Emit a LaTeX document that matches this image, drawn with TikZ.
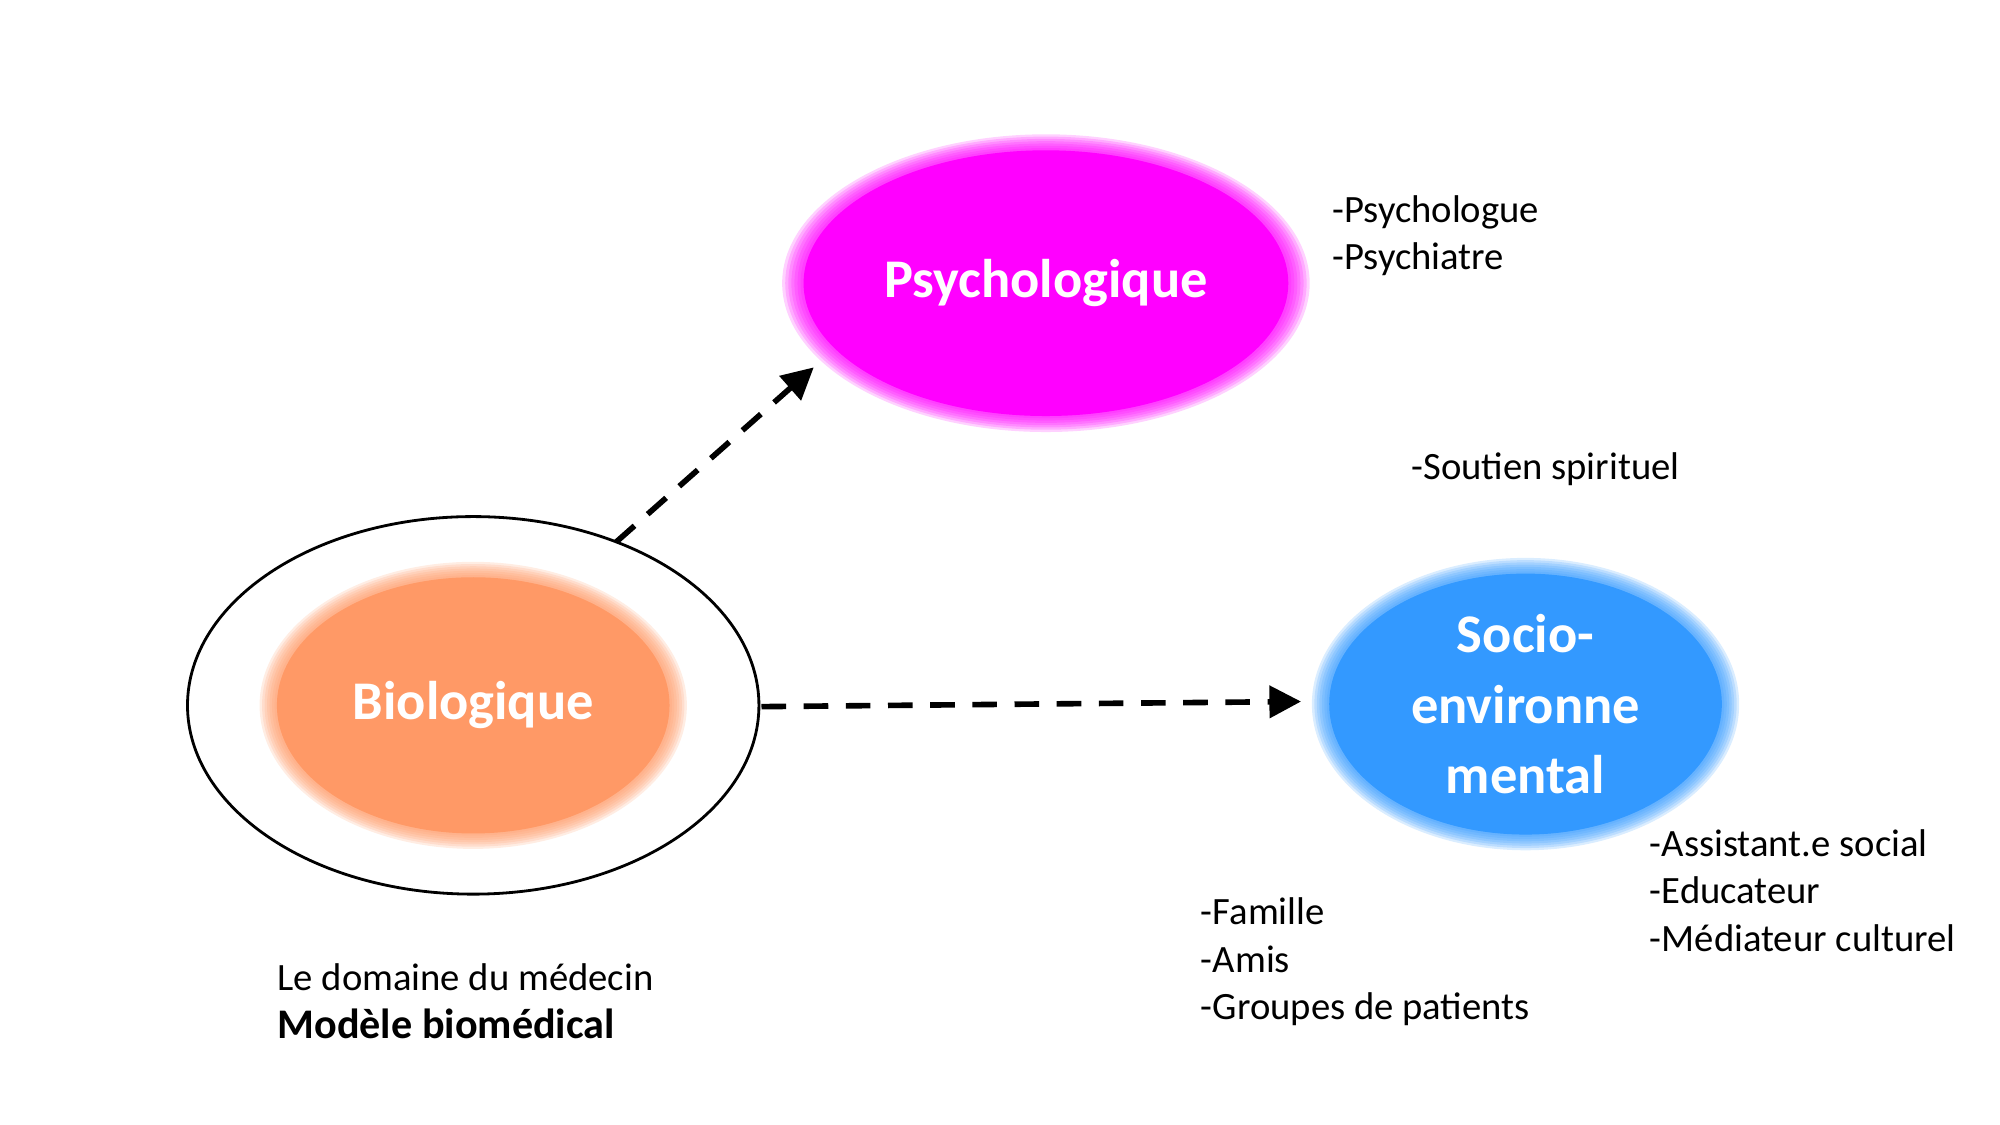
\documentclass[tikz,border=0pt]{standalone}
\usepackage{fontspec}
\setmainfont{Carlito}
\usetikzlibrary{arrows.meta}
\definecolor{bio}{HTML}{FF9966}
\definecolor{psy}{HTML}{FF00FF}
\definecolor{soc}{HTML}{3399FF}
\tikzset{
  small/.style={anchor=west,font=\fontsize{11}{13.5}\selectfont,align=left,inner sep=0pt},
  big/.style={text=white,font=\fontsize{15.5}{20}\selectfont\bfseries,align=center},
  conn/.style={line width=1.6pt,dash pattern=on 7pt off 5pt,-{Triangle[length=9pt,width=9pt]}}
}
\newcommand{\blurell}[4]{% center, rx, ry, color
  \fill[#4] #1 ellipse[x radius=#2*0.95, y radius=#3*0.93];
  \foreach \k in {0,...,7}{
    \fill[#4,opacity=0.18] #1 ellipse[x radius=#2*(0.95+0.012*\k), y radius=#3*(0.93+0.016*\k)];
  }
}
\begin{document}
\begin{tikzpicture}[x=0.012755cm,y=-0.012755cm]
\useasboundingbox (0,0) rectangle (1568,882);
\coordinate (bioc) at (371,553);
\coordinate (psyc) at (820,222);
\coordinate (socc) at (1196,552);
\draw[line width=0.8pt] (bioc) ellipse[x radius=224, y radius=148];
\blurell{(bioc)}{162}{108}{bio}
\blurell{(psyc)}{200}{112}{psy}
\blurell{(socc)}{162}{110}{soc}
\node[big] (bio) at (bioc) {Biologique};
\node[big] (psy) at (psyc) {Psychologique};
\node[big] (soc) at (socc) {Socio-\\environne\\mental};
\coordinate (a1s) at (483,425);
\coordinate (a1e) at (638,288);
\coordinate (a2s) at (597,554);
\coordinate (a2e) at (1020,550);
\draw[conn] (a1s) -- (a1e);
\draw[conn] (a2s) -- (a2e);
\node[small] (t1) at (1044,185) {-Psychologue\\-Psychiatre};
\node[small] (t2) at (1106,368) {-Soutien spirituel};
\node[small] (t3) at (1293,698) {-Assistant.e social\\-Educateur\\-Médiateur culturel};
\node[small] (t4) at (941,754) {-Famille\\-Amis\\-Groupes de patients};
\node[small] (t5) at (217,785) {Le domaine du médecin\\\textbf{\fontsize{12}{13.5}\selectfont Modèle biomédical}};
\end{tikzpicture}
\end{document}
